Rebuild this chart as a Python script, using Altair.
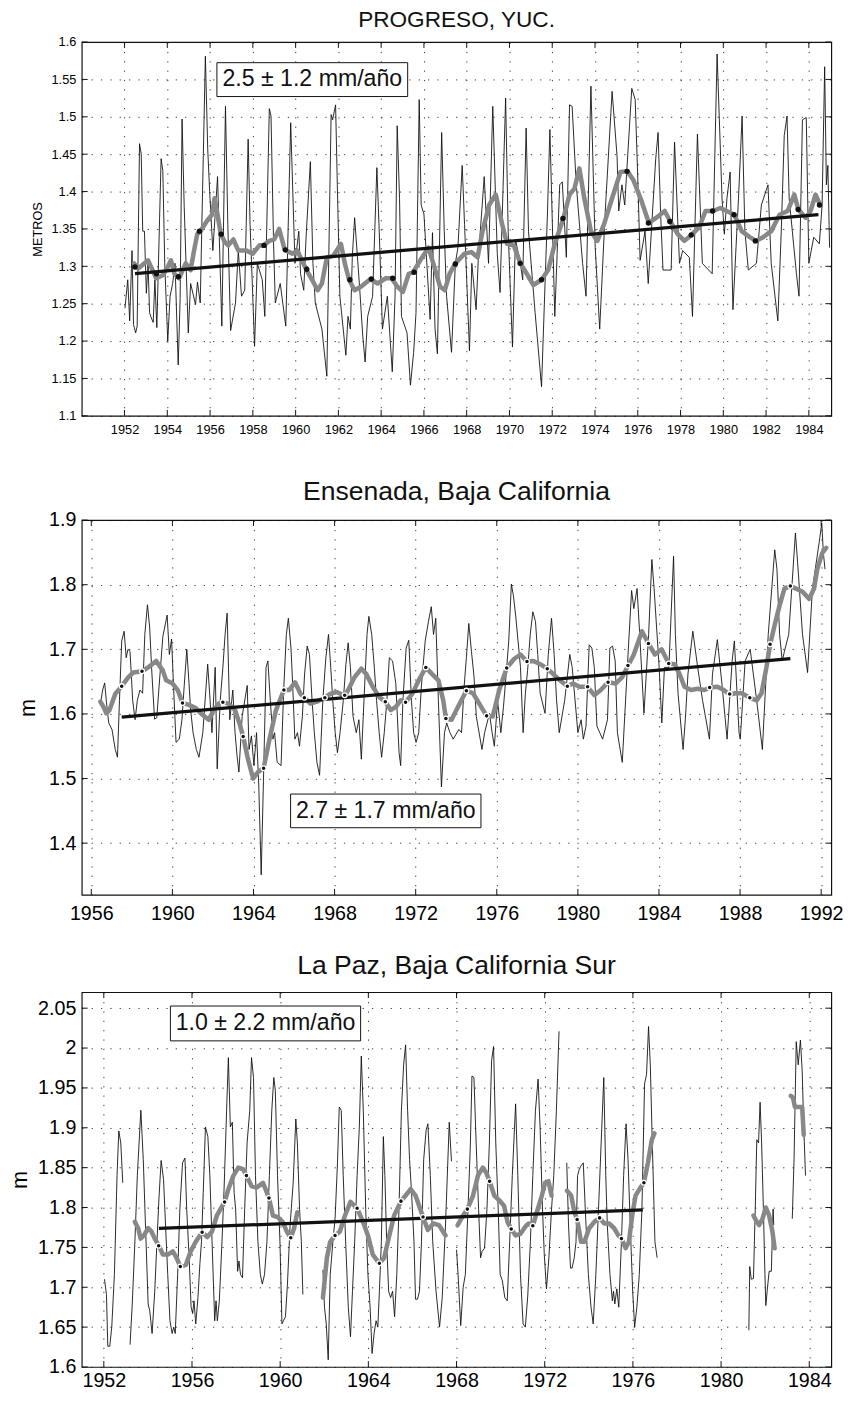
import altair as alt
import pandas as pd

FONT = "Liberation Sans"

# ---------------- Panel 1: PROGRESO, YUC. ----------------
p1_raw = [
    (1952.02, 1.244), (1952.15, 1.282), (1952.24, 1.227), (1952.35, 1.321), (1952.42, 1.222), (1952.52, 1.211),
    (1952.59, 1.220), (1952.70, 1.464), (1952.78, 1.450), (1952.85, 1.347), (1952.93, 1.347), (1953.02, 1.264),
    (1953.10, 1.304), (1953.17, 1.238), (1953.25, 1.231), (1953.34, 1.225), (1953.42, 1.282), (1953.51, 1.218),
    (1953.71, 1.444), (1953.79, 1.428), (1953.88, 1.304), (1954.02, 1.200), (1954.13, 1.260), (1954.25, 1.277),
    (1954.36, 1.304), (1954.51, 1.168), (1954.60, 1.257), (1954.69, 1.497), (1954.79, 1.380), (1954.98, 1.211),
    (1955.09, 1.277), (1955.32, 1.249), (1955.41, 1.279), (1955.54, 1.251), (1955.78, 1.581), (1955.89, 1.457),
    (1955.98, 1.400), (1956.13, 1.321), (1956.35, 1.420), (1956.43, 1.339), (1956.55, 1.220), (1956.72, 1.514),
    (1956.83, 1.356), (1956.96, 1.214), (1957.19, 1.251), (1957.32, 1.321), (1957.47, 1.260), (1957.62, 1.268),
    (1957.78, 1.470), (1957.87, 1.356), (1957.98, 1.273), (1958.08, 1.193), (1958.21, 1.304), (1958.44, 1.282),
    (1958.56, 1.233), (1958.77, 1.511), (1958.85, 1.501), (1958.97, 1.330), (1959.05, 1.251), (1959.28, 1.277),
    (1959.54, 1.220), (1959.77, 1.492), (1959.97, 1.304), (1960.15, 1.347), (1960.23, 1.290), (1960.38, 1.268),
    (1960.49, 1.339), (1960.69, 1.440), (1960.81, 1.304), (1960.92, 1.251), (1961.23, 1.216), (1961.46, 1.153),
    (1961.66, 1.503), (1961.73, 1.496), (1961.87, 1.516), (1961.95, 1.409), (1962.07, 1.260), (1962.35, 1.181),
    (1962.45, 1.233), (1962.56, 1.216), (1962.65, 1.312), (1962.76, 1.365), (1962.99, 1.273), (1963.14, 1.207),
    (1963.25, 1.172), (1963.37, 1.233), (1963.60, 1.260), (1963.80, 1.432), (1963.91, 1.347), (1964.06, 1.216),
    (1964.29, 1.260), (1964.52, 1.159), (1964.65, 1.260), (1964.75, 1.488), (1964.86, 1.391), (1964.95, 1.233),
    (1965.21, 1.211), (1965.37, 1.141), (1965.52, 1.185), (1965.63, 1.238), (1965.78, 1.523), (1965.87, 1.382),
    (1966.00, 1.370), (1966.29, 1.229), (1966.40, 1.345), (1966.52, 1.216), (1966.63, 1.183), (1966.83, 1.479),
    (1966.95, 1.347), (1967.06, 1.260), (1967.29, 1.185), (1967.47, 1.304), (1967.59, 1.325), (1967.79, 1.435),
    (1967.90, 1.356), (1968.13, 1.187), (1968.24, 1.304), (1968.44, 1.242), (1968.54, 1.308), (1968.82, 1.420),
    (1969.02, 1.304), (1969.22, 1.514), (1969.43, 1.317), (1969.56, 1.265), (1969.82, 1.525), (1969.94, 1.347),
    (1970.14, 1.192), (1970.28, 1.336), (1970.51, 1.304), (1970.62, 1.282), (1970.78, 1.485), (1970.89, 1.347),
    (1971.20, 1.238), (1971.50, 1.139), (1971.78, 1.374), (1971.89, 1.483), (1972.12, 1.233), (1972.35, 1.409),
    (1972.47, 1.413), (1972.66, 1.312), (1972.81, 1.516), (1972.93, 1.514), (1973.12, 1.411), (1973.42, 1.304),
    (1973.58, 1.260), (1973.81, 1.541), (1974.01, 1.325), (1974.22, 1.216), (1974.47, 1.369), (1974.80, 1.534),
    (1975.03, 1.448), (1975.11, 1.374), (1975.26, 1.409), (1975.39, 1.382), (1975.72, 1.538), (1975.88, 1.523),
    (1976.00, 1.418), (1976.11, 1.308), (1976.34, 1.347), (1976.49, 1.277), (1976.84, 1.444), (1976.95, 1.479),
    (1977.07, 1.369), (1977.18, 1.295), (1977.56, 1.295), (1977.72, 1.466), (1977.95, 1.304), (1978.10, 1.321),
    (1978.41, 1.312), (1978.56, 1.233), (1978.79, 1.477), (1979.02, 1.304), (1979.48, 1.290), (1979.71, 1.584),
    (1979.94, 1.391), (1980.05, 1.343), (1980.17, 1.391), (1980.32, 1.426), (1980.45, 1.242), (1980.71, 1.391),
    (1980.88, 1.501), (1981.01, 1.347), (1981.17, 1.295), (1981.55, 1.304), (1981.78, 1.382), (1982.09, 1.409),
    (1982.24, 1.304), (1982.55, 1.227), (1982.71, 1.347), (1982.85, 1.475), (1982.98, 1.501), (1983.08, 1.391),
    (1983.42, 1.290), (1983.54, 1.260), (1983.70, 1.496), (1983.88, 1.499), (1984.00, 1.304), (1984.23, 1.339),
    (1984.49, 1.330), (1984.62, 1.382), (1984.74, 1.567), (1984.82, 1.409), (1984.89, 1.435), (1984.97, 1.325),
]
p1_smooth = [
    (1952.45, 1.304), (1952.64, 1.297), (1953.10, 1.308), (1953.48, 1.284), (1953.79, 1.288), (1954.02, 1.299),
    (1954.17, 1.308), (1954.33, 1.290), (1954.55, 1.284), (1954.86, 1.304), (1955.09, 1.295), (1955.25, 1.321),
    (1955.40, 1.343), (1955.55, 1.347), (1955.86, 1.361), (1956.09, 1.369), (1956.21, 1.391), (1956.32, 1.374),
    (1956.50, 1.343), (1956.70, 1.332), (1956.85, 1.328), (1957.09, 1.336), (1957.32, 1.321), (1957.70, 1.321),
    (1958.00, 1.317), (1958.31, 1.328), (1958.50, 1.328), (1958.77, 1.334), (1959.00, 1.336), (1959.23, 1.350),
    (1959.49, 1.322), (1959.85, 1.317), (1960.08, 1.321), (1960.49, 1.296), (1960.77, 1.282), (1961.03, 1.268),
    (1961.23, 1.277), (1961.46, 1.312), (1961.76, 1.314), (1962.12, 1.330), (1962.30, 1.304), (1962.50, 1.282),
    (1962.76, 1.268), (1963.07, 1.273), (1963.50, 1.283), (1963.83, 1.277), (1964.22, 1.284), (1964.49, 1.284),
    (1964.75, 1.273), (1965.02, 1.266), (1965.29, 1.290), (1965.49, 1.292), (1965.83, 1.308), (1966.21, 1.325),
    (1966.49, 1.299), (1966.75, 1.273), (1966.98, 1.268), (1967.20, 1.290), (1967.47, 1.304), (1967.90, 1.317),
    (1968.21, 1.319), (1968.51, 1.312), (1968.74, 1.347), (1969.05, 1.382), (1969.36, 1.396), (1969.66, 1.356),
    (1969.89, 1.330), (1970.20, 1.328), (1970.51, 1.304), (1970.81, 1.290), (1971.12, 1.275), (1971.50, 1.282),
    (1971.81, 1.295), (1972.12, 1.330), (1972.52, 1.364), (1972.81, 1.396), (1973.04, 1.404), (1973.27, 1.431),
    (1973.50, 1.391), (1973.81, 1.347), (1974.11, 1.334), (1974.42, 1.356), (1974.80, 1.391), (1975.19, 1.426),
    (1975.52, 1.427), (1975.80, 1.415), (1976.18, 1.387), (1976.52, 1.358), (1976.87, 1.365), (1977.26, 1.374),
    (1977.52, 1.360), (1977.87, 1.343), (1978.18, 1.334), (1978.51, 1.342), (1978.87, 1.352), (1979.17, 1.374),
    (1979.52, 1.374), (1979.86, 1.378), (1980.52, 1.369), (1980.86, 1.347), (1981.24, 1.339), (1981.52, 1.334),
    (1981.86, 1.339), (1982.24, 1.347), (1982.63, 1.369), (1983.01, 1.374), (1983.32, 1.396), (1983.51, 1.376),
    (1983.85, 1.365), (1984.08, 1.374), (1984.31, 1.396), (1984.53, 1.382),
]
p1_dots = [
    (1952.49, 1.299), (1953.49, 1.290), (1954.52, 1.286), (1955.50, 1.347), (1956.52, 1.343), (1958.52, 1.328),
    (1959.52, 1.322), (1960.52, 1.296), (1962.54, 1.282), (1963.54, 1.283), (1964.54, 1.284), (1965.54, 1.292),
    (1967.47, 1.303), (1970.50, 1.304), (1971.50, 1.282), (1972.50, 1.364), (1975.50, 1.427), (1976.50, 1.358),
    (1977.50, 1.360), (1978.50, 1.342), (1979.50, 1.374), (1980.50, 1.369), (1981.50, 1.334), (1983.50, 1.376),
    (1984.50, 1.382),
]
p1_trend = [(1952.49, 1.2903), (1984.45, 1.3692)]
p1_xticks = list(range(1952, 1985, 2))
p1_yticks = [1.1, 1.15, 1.2, 1.25, 1.3, 1.35, 1.4, 1.45, 1.5, 1.55, 1.6]

# ---------------- Panel 2: Ensenada ----------------
p2_raw = [
    (1956.45, 1.615), (1956.56, 1.637), (1956.66, 1.648), (1956.75, 1.617), (1956.86, 1.586), (1957.02, 1.576),
    (1957.18, 1.545), (1957.29, 1.533), (1957.39, 1.621), (1957.50, 1.713), (1957.62, 1.728), (1957.72, 1.687),
    (1957.81, 1.700), (1957.91, 1.697), (1958.04, 1.621), (1958.16, 1.591), (1958.27, 1.621), (1958.40, 1.637),
    (1958.53, 1.632), (1958.64, 1.723), (1958.77, 1.769), (1958.88, 1.733), (1958.99, 1.662), (1959.12, 1.592),
    (1959.23, 1.594), (1959.33, 1.637), (1959.53, 1.720), (1959.74, 1.753), (1959.85, 1.692), (1959.96, 1.716),
    (1960.05, 1.647), (1960.18, 1.556), (1960.34, 1.561), (1960.47, 1.591), (1960.58, 1.642), (1960.71, 1.700),
    (1960.82, 1.647), (1960.90, 1.606), (1961.02, 1.571), (1961.18, 1.545), (1961.31, 1.533), (1961.50, 1.571),
    (1961.74, 1.677), (1961.86, 1.621), (1961.95, 1.571), (1962.11, 1.672), (1962.21, 1.515), (1962.36, 1.621),
    (1962.49, 1.672), (1962.60, 1.723), (1962.70, 1.756), (1962.83, 1.591), (1962.98, 1.637), (1963.09, 1.571),
    (1963.19, 1.535), (1963.28, 1.510), (1963.44, 1.596), (1963.69, 1.644), (1963.78, 1.545), (1963.90, 1.566),
    (1964.02, 1.520), (1964.15, 1.571), (1964.26, 1.490), (1964.38, 1.351), (1964.49, 1.495), (1964.62, 1.672),
    (1964.71, 1.682), (1964.83, 1.621), (1964.96, 1.561), (1965.04, 1.571), (1965.17, 1.525), (1965.36, 1.520),
    (1965.49, 1.637), (1965.62, 1.723), (1965.72, 1.748), (1965.85, 1.702), (1965.93, 1.647), (1966.04, 1.561),
    (1966.17, 1.571), (1966.27, 1.550), (1966.41, 1.596), (1966.52, 1.662), (1966.65, 1.705), (1966.76, 1.692),
    (1966.89, 1.621), (1967.00, 1.571), (1967.13, 1.525), (1967.26, 1.505), (1967.42, 1.621), (1967.57, 1.687),
    (1967.70, 1.723), (1967.81, 1.672), (1967.91, 1.621), (1968.03, 1.571), (1968.14, 1.540), (1968.27, 1.571),
    (1968.43, 1.621), (1968.56, 1.677), (1968.67, 1.710), (1968.78, 1.672), (1968.91, 1.596), (1969.07, 1.571),
    (1969.20, 1.591), (1969.32, 1.530), (1969.45, 1.621), (1969.60, 1.723), (1969.69, 1.751), (1969.83, 1.723),
    (1969.96, 1.672), (1970.07, 1.621), (1970.20, 1.571), (1970.32, 1.533), (1970.45, 1.571), (1970.58, 1.621),
    (1970.70, 1.687), (1970.86, 1.682), (1971.02, 1.647), (1971.18, 1.540), (1971.26, 1.520), (1971.37, 1.621),
    (1971.53, 1.702), (1971.66, 1.714), (1971.79, 1.621), (1971.90, 1.571), (1972.02, 1.556), (1972.15, 1.571),
    (1972.28, 1.642), (1972.47, 1.713), (1972.63, 1.743), (1972.77, 1.766), (1972.88, 1.723), (1972.99, 1.748),
    (1973.12, 1.621), (1973.27, 1.487), (1973.42, 1.571), (1973.53, 1.586), (1973.69, 1.571), (1973.85, 1.561),
    (1974.13, 1.576), (1974.26, 1.571), (1974.39, 1.642), (1974.50, 1.687), (1974.62, 1.740), (1974.75, 1.697),
    (1974.88, 1.657), (1974.99, 1.596), (1975.27, 1.545), (1975.40, 1.571), (1975.64, 1.601), (1975.77, 1.571),
    (1975.88, 1.550), (1976.04, 1.621), (1976.20, 1.571), (1976.33, 1.611), (1976.49, 1.672), (1976.59, 1.713),
    (1976.72, 1.801), (1976.82, 1.783), (1976.93, 1.753), (1977.17, 1.672), (1977.30, 1.571), (1977.41, 1.632),
    (1977.52, 1.667), (1977.65, 1.723), (1977.78, 1.758), (1977.91, 1.743), (1978.02, 1.692), (1978.14, 1.632),
    (1978.38, 1.601), (1978.54, 1.692), (1978.70, 1.748), (1978.83, 1.692), (1978.95, 1.621), (1979.08, 1.571),
    (1979.35, 1.621), (1979.60, 1.692), (1979.72, 1.672), (1980.00, 1.571), (1980.16, 1.591), (1980.27, 1.561),
    (1980.40, 1.581), (1980.56, 1.707), (1980.69, 1.702), (1980.81, 1.672), (1980.94, 1.581), (1981.22, 1.561),
    (1981.46, 1.591), (1981.58, 1.702), (1981.71, 1.705), (1981.84, 1.682), (1981.95, 1.571), (1982.19, 1.525),
    (1982.44, 1.672), (1982.65, 1.791), (1982.76, 1.763), (1982.92, 1.794), (1983.05, 1.723), (1983.26, 1.601),
    (1983.49, 1.723), (1983.65, 1.839), (1983.76, 1.794), (1984.01, 1.672), (1984.14, 1.586), (1984.27, 1.672),
    (1984.49, 1.672), (1984.72, 1.844), (1984.81, 1.723), (1984.94, 1.632), (1985.19, 1.545), (1985.30, 1.591),
    (1985.43, 1.662), (1985.67, 1.728), (1985.91, 1.672), (1986.15, 1.621), (1986.49, 1.561), (1986.64, 1.662),
    (1986.88, 1.715), (1987.12, 1.642), (1987.36, 1.561), (1987.61, 1.682), (1987.72, 1.713), (1987.95, 1.571),
    (1988.01, 1.561), (1988.25, 1.682), (1988.50, 1.700), (1988.82, 1.621), (1989.10, 1.545), (1989.39, 1.723),
    (1989.71, 1.854), (1989.82, 1.824), (1989.95, 1.723), (1990.08, 1.682), (1990.19, 1.697), (1990.40, 1.723),
    (1990.73, 1.880), (1990.84, 1.834), (1991.08, 1.723), (1991.33, 1.664), (1991.57, 1.794), (1991.90, 1.865),
    (1992.03, 1.895), (1992.11, 1.849), (1992.19, 1.824),
]
p2_smooth = [
    (1956.45, 1.619), (1956.60, 1.611), (1956.74, 1.601), (1956.90, 1.606), (1957.18, 1.631), (1957.50, 1.643),
    (1957.83, 1.657), (1958.07, 1.664), (1958.51, 1.666), (1958.80, 1.672), (1959.20, 1.682), (1959.53, 1.667),
    (1959.69, 1.652), (1960.01, 1.647), (1960.26, 1.637), (1960.50, 1.617), (1960.82, 1.614), (1961.15, 1.609),
    (1961.47, 1.599), (1961.79, 1.591), (1962.04, 1.606), (1962.28, 1.616), (1962.49, 1.618), (1962.76, 1.616),
    (1963.09, 1.606), (1963.33, 1.583), (1963.49, 1.565), (1963.73, 1.530), (1963.98, 1.500), (1964.22, 1.510),
    (1964.50, 1.516), (1964.79, 1.561), (1965.11, 1.606), (1965.50, 1.637), (1965.76, 1.637), (1966.05, 1.649),
    (1966.32, 1.631), (1966.52, 1.625), (1966.81, 1.616), (1967.13, 1.619), (1967.52, 1.625), (1967.78, 1.631),
    (1968.10, 1.634), (1968.51, 1.628), (1968.75, 1.642), (1968.99, 1.657), (1969.32, 1.670), (1969.56, 1.662),
    (1969.88, 1.642), (1970.21, 1.626), (1970.50, 1.619), (1970.77, 1.606), (1971.02, 1.611), (1971.26, 1.621),
    (1971.50, 1.618), (1971.83, 1.631), (1972.15, 1.652), (1972.50, 1.672), (1972.80, 1.662), (1973.12, 1.652),
    (1973.36, 1.621), (1973.49, 1.593), (1973.77, 1.591), (1974.09, 1.611), (1974.50, 1.636), (1974.83, 1.632),
    (1975.23, 1.611), (1975.50, 1.597), (1975.80, 1.596), (1976.12, 1.637), (1976.49, 1.671), (1976.85, 1.685),
    (1977.17, 1.692), (1977.49, 1.681), (1977.81, 1.682), (1978.14, 1.677), (1978.49, 1.670), (1978.78, 1.662),
    (1979.11, 1.652), (1979.48, 1.643), (1979.76, 1.647), (1980.08, 1.642), (1980.48, 1.642), (1980.81, 1.629),
    (1981.13, 1.637), (1981.49, 1.649), (1981.86, 1.647), (1982.19, 1.657), (1982.48, 1.675), (1982.76, 1.692),
    (1983.16, 1.728), (1983.48, 1.709), (1983.80, 1.692), (1984.13, 1.700), (1984.48, 1.678), (1984.77, 1.677),
    (1985.01, 1.662), (1985.26, 1.642), (1985.58, 1.637), (1985.91, 1.639), (1986.24, 1.637), (1986.51, 1.641),
    (1986.88, 1.642), (1987.20, 1.637), (1987.49, 1.630), (1987.77, 1.632), (1988.09, 1.632), (1988.48, 1.625),
    (1988.82, 1.621), (1989.06, 1.632), (1989.30, 1.672), (1989.48, 1.707), (1989.71, 1.738), (1989.95, 1.768),
    (1990.19, 1.794), (1990.48, 1.798), (1990.76, 1.794), (1991.08, 1.789), (1991.41, 1.778), (1991.65, 1.794),
    (1991.81, 1.824), (1992.05, 1.849), (1992.25, 1.857),
]
p2_dots = [
    (1957.50, 1.643), (1958.50, 1.666), (1960.50, 1.617), (1962.49, 1.618), (1963.49, 1.565), (1964.50, 1.516),
    (1965.50, 1.637), (1966.51, 1.625), (1967.52, 1.625), (1968.50, 1.629), (1970.50, 1.619), (1971.50, 1.618),
    (1972.50, 1.672), (1973.49, 1.593), (1974.50, 1.636), (1975.50, 1.597), (1976.49, 1.671), (1977.49, 1.681),
    (1978.49, 1.670), (1979.48, 1.643), (1980.48, 1.642), (1981.49, 1.649), (1982.47, 1.675), (1983.48, 1.709),
    (1984.48, 1.678), (1986.50, 1.641), (1987.49, 1.631), (1988.48, 1.625), (1989.48, 1.708), (1990.48, 1.798),
]
p2_trend = [(1957.50, 1.5951), (1990.48, 1.6857)]
p2_xticks = list(range(1956, 1993, 4))
p2_yticks = [1.4, 1.5, 1.6, 1.7, 1.8, 1.9]

# ---------------- Panel 3: La Paz ----------------
p3_raw_segments = [
    [(1952.03, 1.710), (1952.12, 1.691), (1952.18, 1.626), (1952.27, 1.626), (1952.36, 1.650), (1952.48, 1.716),
     (1952.60, 1.840), (1952.68, 1.896), (1952.77, 1.881), (1952.86, 1.831)],
    [(1953.19, 1.628), (1953.29, 1.679), (1953.41, 1.757), (1953.52, 1.840), (1953.68, 1.922), (1953.79, 1.860),
     (1953.89, 1.778), (1954.01, 1.679), (1954.08, 1.671), (1954.19, 1.642), (1954.31, 1.695), (1954.41, 1.757),
     (1954.50, 1.811), (1954.60, 1.859), (1954.71, 1.835), (1954.80, 1.778), (1954.90, 1.716), (1955.00, 1.658),
     (1955.10, 1.642), (1955.17, 1.650), (1955.24, 1.642), (1955.35, 1.716), (1955.45, 1.798), (1955.57, 1.856),
     (1955.68, 1.862), (1955.76, 1.798), (1955.87, 1.737), (1955.96, 1.675), (1956.03, 1.667), (1956.09, 1.683),
     (1956.17, 1.654), (1956.27, 1.687), (1956.36, 1.730), (1956.43, 1.757), (1956.51, 1.819), (1956.61, 1.901),
     (1956.72, 1.889), (1956.81, 1.840), (1956.91, 1.757), (1957.03, 1.658), (1957.09, 1.683), (1957.15, 1.658),
     (1957.24, 1.683), (1957.36, 1.757), (1957.46, 1.827), (1957.57, 1.922), (1957.65, 1.988), (1957.74, 1.901),
     (1957.83, 1.907), (1957.91, 1.819), (1957.98, 1.798), (1958.07, 1.720), (1958.13, 1.733), (1958.20, 1.716),
     (1958.29, 1.712), (1958.39, 1.798), (1958.50, 1.881), (1958.62, 1.922), (1958.70, 1.988), (1958.79, 1.963),
     (1958.88, 1.840), (1958.99, 1.757), (1959.10, 1.716), (1959.19, 1.704), (1959.29, 1.716), (1959.40, 1.757),
     (1959.51, 1.840), (1959.62, 1.922), (1959.71, 1.963), (1959.78, 1.947), (1959.88, 1.840), (1959.99, 1.757),
     (1960.08, 1.654), (1960.15, 1.658), (1960.24, 1.663), (1960.33, 1.704), (1960.45, 1.778), (1960.59, 1.831),
     (1960.71, 1.911), (1960.78, 1.881), (1960.88, 1.798), (1960.96, 1.757), (1961.03, 1.691)],
    [(1961.94, 1.722), (1962.01, 1.675), (1962.09, 1.654), (1962.18, 1.609), (1962.27, 1.716), (1962.39, 1.757),
     (1962.49, 1.786), (1962.60, 1.856), (1962.68, 1.926), (1962.77, 1.922), (1962.86, 1.840), (1962.97, 1.757),
     (1963.09, 1.675), (1963.19, 1.638), (1963.28, 1.695), (1963.38, 1.757), (1963.49, 1.840), (1963.59, 1.901),
     (1963.68, 1.990), (1963.77, 1.922), (1963.88, 1.798), (1963.98, 1.716), (1964.08, 1.675), (1964.17, 1.617),
     (1964.26, 1.642), (1964.35, 1.658), (1964.43, 1.650), (1964.50, 1.695), (1964.59, 1.757), (1964.68, 1.889),
     (1964.75, 1.840), (1964.83, 1.757), (1964.92, 1.695), (1965.01, 1.687), (1965.10, 1.695), (1965.19, 1.663),
     (1965.29, 1.716), (1965.39, 1.798), (1965.50, 1.922), (1965.60, 1.979), (1965.69, 2.004), (1965.78, 1.922),
     (1965.87, 1.860), (1965.96, 1.819), (1966.07, 1.757), (1966.14, 1.685), (1966.23, 1.685), (1966.32, 1.695),
     (1966.41, 1.757), (1966.51, 1.860), (1966.62, 1.897), (1966.70, 1.905), (1966.81, 1.840), (1966.92, 1.757),
     (1967.07, 1.695), (1967.23, 1.650), (1967.35, 1.687), (1967.50, 1.778), (1967.67, 1.907), (1967.77, 1.858)],
    [(1968.00, 1.747), (1968.07, 1.716), (1968.19, 1.652), (1968.30, 1.700), (1968.40, 1.716), (1968.52, 1.798),
     (1968.63, 1.881), (1968.70, 1.965), (1968.79, 1.963), (1968.89, 1.881), (1969.00, 1.798), (1969.09, 1.737),
     (1969.16, 1.745), (1969.27, 1.749), (1969.38, 1.798), (1969.49, 1.881), (1969.59, 1.984), (1969.68, 2.002),
     (1969.78, 1.881), (1969.89, 1.798), (1969.98, 1.716), (1970.08, 1.708), (1970.19, 1.687), (1970.30, 1.683),
     (1970.41, 1.757), (1970.53, 1.840), (1970.68, 1.930), (1970.78, 1.840), (1970.90, 1.716), (1971.02, 1.654),
     (1971.12, 1.650), (1971.23, 1.689), (1971.35, 1.757), (1971.46, 1.840), (1971.58, 1.922), (1971.70, 1.961),
     (1971.79, 1.901), (1971.90, 1.798), (1971.98, 1.741), (1972.08, 1.698), (1972.19, 1.737), (1972.31, 1.798),
     (1972.41, 1.840), (1972.53, 1.922), (1972.65, 2.021)],
    [(1973.00, 1.856), (1973.08, 1.778), (1973.17, 1.724), (1973.24, 1.724), (1973.34, 1.737), (1973.42, 1.757),
     (1973.49, 1.840), (1973.57, 1.848), (1973.64, 1.852), (1973.75, 1.856), (1973.84, 1.798), (1973.98, 1.716),
     (1974.10, 1.675), (1974.20, 1.654), (1974.32, 1.716), (1974.44, 1.798), (1974.56, 1.881), (1974.68, 1.963),
     (1974.77, 1.840), (1974.84, 1.778), (1974.96, 1.716), (1975.07, 1.683), (1975.12, 1.695), (1975.18, 1.679),
     (1975.27, 1.698), (1975.36, 1.675), (1975.48, 1.757), (1975.58, 1.840), (1975.69, 1.905), (1975.78, 1.860),
     (1975.88, 1.778), (1975.99, 1.695), (1976.08, 1.650), (1976.18, 1.675), (1976.29, 1.716), (1976.41, 1.798),
     (1976.53, 1.955), (1976.62, 1.967), (1976.71, 2.027), (1976.79, 1.979), (1976.88, 1.881), (1977.00, 1.757),
     (1977.10, 1.737)],
    [(1981.26, 1.646), (1981.30, 1.726), (1981.37, 1.710), (1981.47, 1.711), (1981.55, 1.798), (1981.62, 1.885),
     (1981.70, 1.881), (1981.77, 1.932), (1981.84, 1.881), (1981.92, 1.798), (1981.99, 1.716), (1982.03, 1.677),
     (1982.09, 1.695), (1982.18, 1.720), (1982.28, 1.720), (1982.36, 1.798), (1982.39, 1.778)],
    [(1983.23, 1.786), (1983.31, 1.860), (1983.41, 2.008), (1983.50, 1.979), (1983.60, 2.010), (1983.68, 1.971),
     (1983.75, 1.901), (1983.83, 1.840)],
]
p3_smooth_segments = [
    [(1953.41, 1.782), (1953.56, 1.774), (1953.67, 1.761), (1953.82, 1.765), (1954.01, 1.774), (1954.16, 1.770),
     (1954.31, 1.761), (1954.50, 1.752), (1954.68, 1.741), (1954.90, 1.741), (1955.13, 1.745), (1955.30, 1.737),
     (1955.47, 1.726), (1955.72, 1.728), (1955.94, 1.745), (1956.17, 1.757), (1956.46, 1.769), (1956.69, 1.763),
     (1956.91, 1.770), (1957.13, 1.790), (1957.48, 1.807), (1957.65, 1.823), (1957.88, 1.840), (1958.10, 1.850),
     (1958.32, 1.848), (1958.47, 1.840), (1958.70, 1.827), (1958.92, 1.825), (1959.22, 1.831), (1959.49, 1.812),
     (1959.67, 1.790), (1959.89, 1.788), (1960.11, 1.782), (1960.30, 1.770), (1960.48, 1.762), (1960.63, 1.774),
     (1960.78, 1.794)],
    [(1961.94, 1.687), (1962.12, 1.737), (1962.27, 1.757), (1962.49, 1.765), (1962.71, 1.770), (1962.94, 1.790),
     (1963.19, 1.807), (1963.49, 1.799), (1963.76, 1.782), (1963.98, 1.765), (1964.20, 1.741), (1964.50, 1.730),
     (1964.72, 1.737), (1964.95, 1.765), (1965.17, 1.790), (1965.48, 1.808), (1965.69, 1.815), (1965.92, 1.823),
     (1966.14, 1.815), (1966.48, 1.788), (1966.70, 1.772), (1966.95, 1.780), (1967.20, 1.778), (1967.50, 1.765)],
    [(1968.05, 1.778), (1968.30, 1.790), (1968.49, 1.798), (1968.75, 1.815), (1968.97, 1.840), (1969.19, 1.850),
     (1969.34, 1.844), (1969.50, 1.833), (1969.71, 1.815), (1969.94, 1.809), (1970.16, 1.802), (1970.31, 1.782),
     (1970.48, 1.773), (1970.68, 1.765), (1970.90, 1.767), (1971.12, 1.776), (1971.27, 1.780), (1971.46, 1.777),
     (1971.64, 1.794), (1971.87, 1.815), (1972.02, 1.831), (1972.17, 1.833), (1972.31, 1.815)],
    [(1973.01, 1.821), (1973.20, 1.815), (1973.35, 1.794), (1973.47, 1.785), (1973.65, 1.757), (1973.80, 1.757),
     (1974.02, 1.774), (1974.25, 1.782), (1974.49, 1.787), (1974.70, 1.780), (1974.92, 1.780), (1975.15, 1.774),
     (1975.34, 1.765), (1975.48, 1.761), (1975.67, 1.749), (1975.82, 1.757), (1975.97, 1.790), (1976.12, 1.815),
     (1976.34, 1.825), (1976.50, 1.831), (1976.68, 1.856), (1976.86, 1.885), (1976.98, 1.893)],
    [(1981.47, 1.790), (1981.62, 1.782), (1981.73, 1.778), (1981.88, 1.786), (1982.03, 1.800), (1982.18, 1.790),
     (1982.33, 1.770), (1982.43, 1.749)],
    [(1983.16, 1.940), (1983.26, 1.938), (1983.35, 1.926), (1983.53, 1.926), (1983.68, 1.926), (1983.75, 1.891)],
]
p3_dots = [
    (1954.49, 1.752), (1955.47, 1.726), (1956.46, 1.769), (1957.48, 1.807), (1958.47, 1.840), (1959.49, 1.812),
    (1960.48, 1.762), (1962.49, 1.765), (1963.49, 1.799), (1964.50, 1.730), (1965.48, 1.808), (1966.48, 1.788),
    (1968.49, 1.798), (1969.50, 1.833), (1970.48, 1.773), (1971.46, 1.777), (1973.47, 1.785), (1974.49, 1.787),
    (1975.48, 1.761), (1976.50, 1.831),
]
p3_trend = [(1954.50, 1.7737), (1976.45, 1.7971)]
p3_xticks = list(range(1952, 1985, 4))
p3_yticks = [1.6, 1.65, 1.7, 1.75, 1.8, 1.85, 1.9, 1.95, 2.0, 2.05]

# annotation boxes: (x1, x2, y1, y2, text) in data units
p1_note = (1956.32, 1965.24, 1.5271, 1.5724, "2.5 ± 1.2 mm/año")
p2_note = (1965.83, 1975.22, 1.4239, 1.4760, "2.7 ± 1.7 mm/año")
p3_note = (1955.02, 1963.65, 2.0090, 2.0527, "1.0 ± 2.2 mm/año")


def seg_frame(segments):
    rows = []
    for i, seg in enumerate(segments):
        for x, y in seg:
            rows.append({"year": x, "value": y, "seg": i})
    return pd.DataFrame(rows)


def pair_frame(pairs):
    return pd.DataFrame(pairs, columns=["year", "value"])


def make_panel(raw_segs, smooth_segs, dots, trend, note, cfg):
    W, H = cfg["W"], cfg["H"]
    xs = alt.Scale(domain=cfg["xdom"], nice=False, zero=False)
    ys = alt.Scale(domain=cfg["ydom"], nice=False, zero=False)
    grid = dict(grid=True, gridDash=[1.3, 8.2], gridColor="#111", gridWidth=1, gridOpacity=0.8,
                ticks=False, domain=False, labelFont=FONT, labelColor="#000",
                labelFontSize=cfg["tick_fs"], labelFlush=False, labelOverlap=False)
    xaxis_kw = dict(values=cfg["xticks"], format="d", labelPadding=cfg["xpad"], **grid)
    if cfg.get("xspacer"):
        xaxis_kw.update(title=" ", titleFontSize=2, titlePadding=cfg["xspacer"])
    else:
        xaxis_kw.update(title=None)
    xaxis = alt.Axis(**xaxis_kw)
    yaxis = alt.Axis(values=cfg["yticks"], format=cfg["yfmt"], labelPadding=6,
                     title=cfg["ytitle"], titleFont=FONT, titleFontSize=cfg["ytitle_fs"],
                     titleFontWeight="normal", titleColor="#000", titleAngle=270,
                     titleX=cfg["ytitle_x"], titleY=H / 2, titleAlign="center",
                     titleBaseline="alphabetic", **grid)

    X = lambda f="year": alt.X(f"{f}:Q", scale=xs, axis=xaxis)
    Y = lambda f="value": alt.Y(f"{f}:Q", scale=ys, axis=yaxis)

    raw = alt.Chart(seg_frame(raw_segs)).mark_line(color="#111", strokeWidth=0.9, clip=True).encode(
        x=X(), y=Y(), detail="seg:N")
    smooth = alt.Chart(seg_frame(smooth_segs)).mark_line(color="#888888", strokeWidth=4.6, strokeJoin="round",
                                                        strokeCap="round").encode(x=X(), y=Y(), detail="seg:N")
    tr = alt.Chart(pair_frame(trend)).mark_line(color="#111", strokeWidth=3.3).encode(x=X(), y=Y())
    if cfg["dot_style"] == "solid":
        dt = alt.Chart(pair_frame(dots)).mark_circle(size=30, color="#111", opacity=1).encode(x=X(), y=Y())
    else:
        dt = alt.Chart(pair_frame(dots)).mark_point(shape="circle", filled=True, size=24, fill="#111",
                                                     stroke="white", strokeWidth=1.3, opacity=1).encode(x=X(), y=Y())
    nd = pd.DataFrame([{"year": note[0], "x2": note[1], "value": note[2], "y2": note[3],
                        "xc": (note[0] + note[1]) / 2, "yc": (note[2] + note[3]) / 2, "label": note[4]}])
    box = alt.Chart(nd).mark_rect(fill="white", stroke="#111", strokeWidth=1).encode(
        x=X(), x2="x2:Q", y=Y(), y2="y2:Q")
    txt = alt.Chart(nd).mark_text(font=FONT, fontSize=23.5, color="#111", align="center", baseline="middle").encode(
        x=X("xc"), y=Y("yc"), text="label:N")

    xt = pd.DataFrame({"year": cfg["xticks"]})
    yt = pd.DataFrame({"value": cfg["yticks"]})
    tk = dict(color="#111", strokeWidth=1)
    ticks = [
        alt.Chart(xt).mark_rule(**tk).encode(x=X(), y=alt.value(0), y2=alt.value(6)),
        alt.Chart(xt).mark_rule(**tk).encode(x=X(), y=alt.value(H), y2=alt.value(H - 6)),
        alt.Chart(yt).mark_rule(**tk).encode(y=Y(), x=alt.value(0), x2=alt.value(6)),
        alt.Chart(yt).mark_rule(**tk).encode(y=Y(), x=alt.value(W), x2=alt.value(W - 6)),
    ]
    title = alt.TitleParams(text=cfg["title"], font=FONT, fontSize=cfg["title_fs"], fontWeight="normal",
                            color="#111", offset=cfg["title_offset"], anchor="middle")
    return alt.layer(raw, smooth, tr, dt, box, txt, *ticks).properties(width=W, height=H, title=title)


c1 = make_panel([p1_raw], [p1_smooth], p1_dots, p1_trend, p1_note, dict(
    W=762, H=380, xdom=[1950.0, 1985.05], ydom=[1.1, 1.6], xticks=p1_xticks, yticks=p1_yticks,
    yfmt=".2~f", tick_fs=13, xpad=8, xspacer=10.5, ytitle="METROS", ytitle_fs=13, ytitle_x=-41,
    title="PROGRESO, YUC.", title_fs=23, title_offset=4, dot_style="solid"))
c2 = make_panel([p2_raw], [p2_smooth], p2_dots, p2_trend, p2_note, dict(
    W=762, H=381, xdom=[1955.53, 1992.5], ydom=[1.32, 1.9], xticks=p2_xticks, yticks=p2_yticks,
    yfmt=".1f", tick_fs=20, xpad=9, ytitle="m", ytitle_fs=22, ytitle_x=-48,
    title="Ensenada, Baja California", title_fs=27, title_offset=4.5, dot_style="ring"))
c3 = make_panel(p3_raw_segments, p3_smooth_segments, p3_dots, p3_trend, p3_note, dict(
    W=762, H=381, xdom=[1951.0, 1985.0], ydom=[1.6, 2.07], xticks=p3_xticks, yticks=p3_yticks,
    yfmt=".2~f", tick_fs=20, xpad=4, ytitle="m", ytitle_fs=22, ytitle_x=-56,
    title="La Paz, Baja California Sur", title_fs=27, title_offset=12, dot_style="ring"))

chart = alt.vconcat(c1, c2, c3, spacing=27).properties(
    padding={"left": 0, "top": -11, "right": 5, "bottom": 0}
).configure_view(stroke="#111", strokeWidth=1.2)

chart.save("out.html", embed_options={"renderer": "svg", "actions": False})
